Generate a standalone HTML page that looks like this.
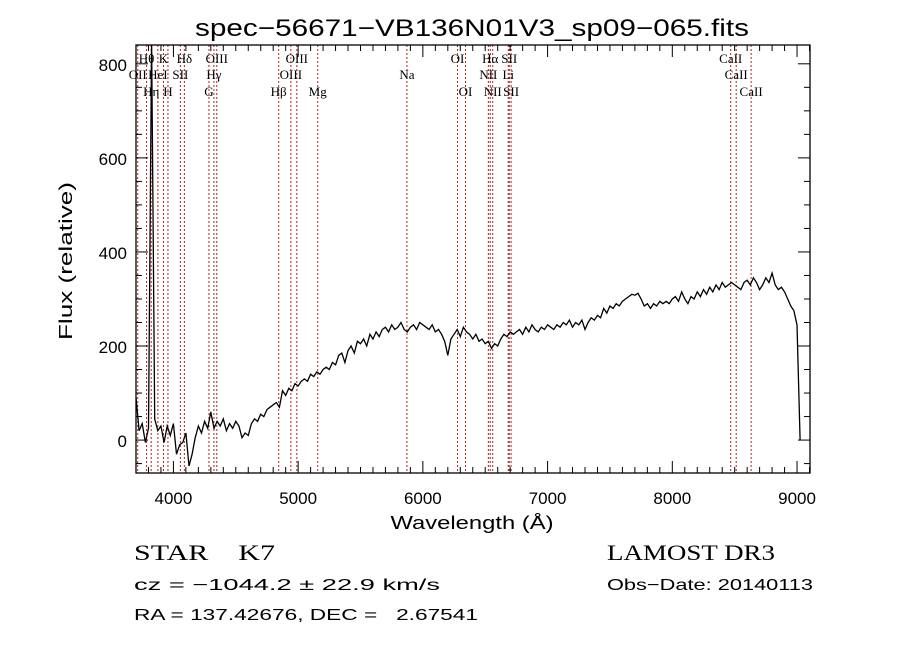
<!DOCTYPE html>
<html><head><meta charset="utf-8"><style>
html,body{margin:0;padding:0;background:#fff;}
svg{display:block;}
text{font-family:"Liberation Sans",sans-serif;fill:#000;white-space:pre;}
.ser{font-family:"Liberation Serif",serif;}
</style></head><body>
<svg id="chart" width="900" height="649" viewBox="0 0 900 649" xmlns="http://www.w3.org/2000/svg" xml:space="preserve">
<rect x="0" y="0" width="900" height="649" fill="#fff"/>
<defs><clipPath id="pc"><rect x="136" y="45" width="674" height="428"/></clipPath></defs>
<text x="472" y="36" font-size="24" text-anchor="middle" textLength="554" lengthAdjust="spacingAndGlyphs">spec−56671−VB136N01V3_sp09−065.fits</text>
<g id="lines" clip-path="url(#pc)"></g>
<g id="labels"></g>
<g id="series" clip-path="url(#pc)"></g>
<rect x="136" y="45" width="674" height="428" fill="none" stroke="#000" stroke-width="1.3"/>
<g id="axes"></g>
<text x="472" y="529" font-size="18" text-anchor="middle" textLength="163" lengthAdjust="spacingAndGlyphs">Wavelength (Å)</text>
<text transform="translate(72,261) rotate(-90)" font-size="18" text-anchor="middle" textLength="158" lengthAdjust="spacingAndGlyphs">Flux (relative)</text>
<text class="ser" x="134" y="560" font-size="22" textLength="141" lengthAdjust="spacingAndGlyphs">STAR    K7</text>
<text class="ser" x="607" y="560" font-size="22" textLength="168" lengthAdjust="spacingAndGlyphs">LAMOST DR3</text>
<text x="134" y="590" font-size="16" textLength="306" lengthAdjust="spacingAndGlyphs">cz = −1044.2 ± 22.9 km/s</text>
<text x="607" y="590" font-size="16" textLength="206" lengthAdjust="spacingAndGlyphs">Obs−Date: 20140113</text>
<text x="134" y="620" font-size="16" textLength="344" lengthAdjust="spacingAndGlyphs">RA = 137.42676, DEC =   2.67541</text>
</svg>
<script>
const waveStart = 3700;
const waveStep = 25;
const flux = [90,20,35,-5,25,850,45,20,30,-5,30,10,35,-30,-10,-5,15,-55,-30,5,30,15,40,25,60,25,40,30,45,20,35,25,40,30,5,15,10,35,45,40,55,50,65,70,75,80,70,105,95,110,105,120,115,125,130,125,140,135,145,140,150,155,150,165,160,180,185,165,190,200,185,210,205,215,200,225,215,230,220,235,240,230,245,235,240,250,235,230,240,245,235,250,245,240,235,245,230,235,225,210,180,215,225,235,220,240,230,225,215,225,210,215,205,210,195,205,200,215,225,220,230,225,230,235,225,240,230,245,235,230,240,235,245,240,235,245,240,250,245,255,240,250,245,255,235,250,260,255,265,260,280,270,285,280,290,285,295,300,305,310,308,312,300,285,290,280,290,285,295,290,295,290,300,305,295,315,300,290,305,300,315,305,320,310,325,315,330,320,335,325,330,335,330,325,320,335,340,330,345,335,320,330,345,335,355,330,320,325,315,300,285,275,245,0];
const lineWaves = [3727,3798,3835,3889,3934,3970,4070,4102,4300,4340,4363,4861,4959,5007,5175,5893,6300,6364,6548,6563,6583,6708,6716,6731,8498,8542,8662];
const labelText = ["OII","Hθ","Hη","HeI","K","H","SII","Hδ","G","Hγ","OIII","Hβ","OIII","OIII","Mg","Na","OI","OI","NII","Hα","NII","Li","SII","SII","CaII","CaII","CaII"];
const labelRow = [2,1,3,2,1,3,2,1,3,2,1,3,2,1,3,2,1,3,2,1,3,2,1,3,1,2,3];
const xTicks = [4000,5000,6000,7000,8000,9000];
const yTicks = [0,200,400,600,800];
const czKms = -1044.2;

const X0=136,X1=810,Y0=473,Y1=45,WMIN=3700,WMAX=9104,FMIN=-70,FMAX=840;
function xs(w){return X0+(w-WMIN)*(X1-X0)/(WMAX-WMIN);}
function ys(f){return Y0-(f-FMIN)*(Y0-Y1)/(FMAX-FMIN);}
const NS="http://www.w3.org/2000/svg";
function mk(t,a,p){const e=document.createElementNS(NS,t);for(const k in a)e.setAttribute(k,a[k]);p.appendChild(e);return e;}

const gl=document.getElementById('lines'), glab=document.getElementById('labels');
lineWaves.forEach((w,i)=>{
  const x=xs(w*(1+czKms/299792.458));
  const l=mk('line',{x1:x,x2:x,y1:Y1,y2:Y0,stroke:'#b22222','stroke-width':1,'stroke-dasharray':'2,2'},gl);
  
  
  const t=mk('text',{x:x,y:[0,63,79,96][labelRow[i]],'font-size':13,'text-anchor':'middle','class':'ser'},glab);
  t.textContent=labelText[i];
  
  
});

const gs=document.getElementById('series');
let d='';
flux.forEach((f,i)=>{const w=waveStart+i*waveStep;d+=(i?'L':'M')+xs(w).toFixed(1)+','+ys(f).toFixed(1);});
const p=mk('path',{d:d,fill:'none',stroke:'#000','stroke-width':1.3},gs);



const ga=document.getElementById('axes');
for(let w=3800;w<=9100;w+=100){
  const x=xs(w), major=(w%1000===0), len=major?12:6;
  mk('line',{x1:x,x2:x,y1:Y0,y2:Y0-len,stroke:'#000','stroke-width':1},ga);
  mk('line',{x1:x,x2:x,y1:Y1,y2:Y1+len,stroke:'#000','stroke-width':1},ga);
}
for(let f=-50;f<=800;f+=50){
  const y=ys(f), major=(f%200===0), len=major?12:6;
  mk('line',{x1:X0,x2:X0+len,y1:y,y2:y,stroke:'#000','stroke-width':1},ga);
  mk('line',{x1:X1,x2:X1-len,y1:y,y2:y,stroke:'#000','stroke-width':1},ga);
}
xTicks.forEach(w=>{
  const t=mk('text',{x:xs(w),y:504,'font-size':17,'text-anchor':'middle'},ga);
  t.textContent=w;
  
  
});
yTicks.forEach(f=>{
  const t=mk('text',{x:127,y:ys(f)+7,'font-size':17,'text-anchor':'end'},ga);
  t.textContent=f;
  
  
});
</script>
</body></html>
